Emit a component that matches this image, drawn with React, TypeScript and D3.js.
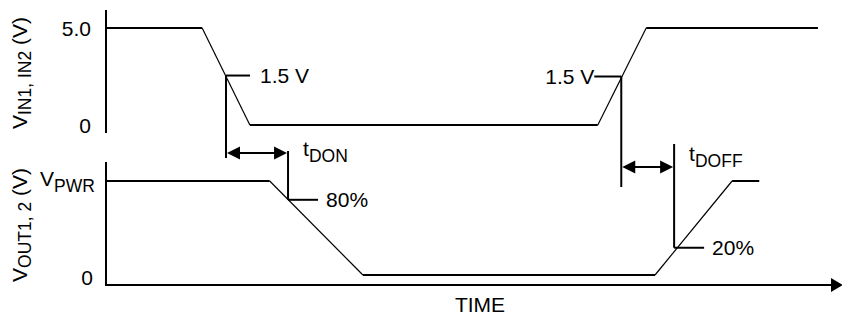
import React from "react";
import * as d3 from "d3";

// ---- data (time in arbitrary units 0..100, levels in volts / fraction of VPWR) ----
const vinTime = [0, 13.1, 19.6, 67.0, 73.6, 97.0];
const vinLevel = [5, 5, 0, 0, 5, 5];
const voutTime = [0, 22.3, 35.0, 74.8, 85.3, 89.0];
const voutLevel = [1, 1, 0, 0, 1, 1];
const vinTicks = [5, 0];
const vinTickLabels = ["5.0", "0"];
const voutTicks = [1, 0];
const vinMarkerTime = [16.35, 70.2];
const vinMarkerLevel = [2.55, 2.5];
const vinMarkerLabel = ["1.5 V", "1.5 V"];
const voutMarkerTime = [24.8, 77.4];
const voutMarkerLevel = [0.8, 0.29];
const voutMarkerLabel = ["80%", "20%"];
const delayLabels = ["DON", "DOFF"];

const W = 842;
const H = 318;
const FONT = "'Liberation Sans', Arial, Helvetica, sans-serif";
const FS = 21;
const SUB = 17.5;

export default function App() {
  const x = d3.scaleLinear().domain([0, 100]).range([106, 840]);
  const yIn = d3.scaleLinear().domain([0, 5]).range([125, 28]);
  const yOut = d3.scaleLinear().domain([0, 1]).range([275, 181]);

  const segs = (ts: number[], ls: number[], y: d3.ScaleLinear<number, number>) =>
    ts.slice(1).map((t, i) => ({
      x1: x(ts[i]),
      y1: y(ls[i]),
      x2: x(t),
      y2: y(ls[i + 1]),
      flat: ls[i] === ls[i + 1],
    }));

  const inSegs = segs(vinTime, vinLevel, yIn);
  const outSegs = segs(voutTime, voutLevel, yOut);

  const axisX = x(0);
  const arrowHead = (tipX: number, y: number, dir: number, len = 13, half = 6.5) =>
    `M${tipX},${y} L${tipX - dir * len},${y - half} L${tipX - dir * len},${y + half} Z`;

  // marker geometry
  const inM = vinMarkerTime.map((t, i) => ({ x: x(t), y: yIn(vinMarkerLevel[i]) }));
  const outM = voutMarkerTime.map((t, i) => ({ x: x(t), y: yOut(voutMarkerLevel[i]) }));
  const inVertBottom = [158, 187];
  const outVertTop = [151, 144];
  const arrowY = [153, 167];

  const text = { fontFamily: FONT, fontSize: FS, fill: "#000" } as const;

  return (
    <svg width={W} height={H} style={{ position: "absolute", left: 0, top: 0, background: "#fff" }}>
      <rect width={W} height={H} fill="#fff" />
      {/* axes */}
      <line x1={axisX} y1={10} x2={axisX} y2={133} stroke="#000" strokeWidth={2} />
      <line x1={axisX} y1={162} x2={axisX} y2={286} stroke="#000" strokeWidth={2} />
      <line x1={axisX - 1} y1={285} x2={832} y2={285} stroke="#000" strokeWidth={2} />
      <path d={arrowHead(843, 285, 1, 12, 7)} fill="#000" />

      {/* waveforms */}
      {[...inSegs, ...outSegs].map((s, i) => (
        <line key={i} x1={s.x1} y1={s.y1} x2={s.x2} y2={s.y2} stroke="#000" strokeWidth={s.flat ? 2 : 1.2} />
      ))}

      {/* tick labels */}
      {vinTicks.map((v, i) => (
        <text key={i} x={91} y={yIn(v) + 8} textAnchor="end" {...text}>
          {vinTickLabels[i]}
        </text>
      ))}
      <text x={93} y={yOut(voutTicks[1]) + 10} textAnchor="end" {...text}>0</text>
      <text x={40} y={yOut(voutTicks[0]) + 5} {...text}>
        V<tspan fontSize={SUB} dy={6}>PWR</tspan>
      </text>

      {/* y titles */}
      <text transform="translate(27,73) rotate(-90)" textAnchor="middle" {...text}>
        V<tspan fontSize={SUB} dy={4}>IN1, IN2</tspan>
        <tspan dy={-4}> (V)</tspan>
      </text>
      <text transform="translate(27,225) rotate(-90)" textAnchor="middle" {...text}>
        V<tspan fontSize={SUB} dy={4}>OUT1, 2</tspan>
        <tspan dy={-4}> (V)</tspan>
      </text>
      <text x={480} y={312} textAnchor="middle" {...text}>TIME</text>

      {/* input threshold markers */}
      {inM.map((m, i) => (
        <g key={"in" + i}>
          <line x1={m.x} y1={m.y} x2={m.x} y2={inVertBottom[i]} stroke="#000" strokeWidth={2} />
          {i === 0 ? (
            <>
              <line x1={m.x} y1={m.y} x2={m.x + 24} y2={m.y} stroke="#000" strokeWidth={2} />
              <text x={m.x + 34} y={m.y + 7} {...text}>{vinMarkerLabel[i]}</text>
            </>
          ) : (
            <>
              <line x1={m.x - 27} y1={m.y} x2={m.x} y2={m.y} stroke="#000" strokeWidth={2} />
              <text x={m.x - 27} y={m.y + 7} textAnchor="end" {...text}>{vinMarkerLabel[i]}</text>
            </>
          )}
        </g>
      ))}

      {/* output threshold markers */}
      {outM.map((m, i) => (
        <g key={"out" + i}>
          <line x1={m.x} y1={outVertTop[i]} x2={m.x} y2={m.y} stroke="#000" strokeWidth={2} />
          <line x1={m.x} y1={m.y} x2={m.x + 30} y2={m.y} stroke="#000" strokeWidth={2} />
          <text x={m.x + 38} y={m.y + 7} {...text}>{voutMarkerLabel[i]}</text>
        </g>
      ))}

      {/* delay arrows */}
      {inM.map((m, i) => {
        const x1 = m.x + 1;
        const x2 = outM[i].x - 1;
        const y = arrowY[i];
        return (
          <g key={"arr" + i}>
            <line x1={x1 + 10} y1={y} x2={x2 - 10} y2={y} stroke="#000" strokeWidth={2} />
            <path d={arrowHead(x1, y, -1)} fill="#000" />
            <path d={arrowHead(x2, y, 1)} fill="#000" />
            <text x={outM[i].x + 15} y={y + (i === 0 ? 3 : -6)} {...text}>
              t<tspan fontSize={SUB} dy={6}>{delayLabels[i]}</tspan>
            </text>
          </g>
        );
      })}
    </svg>
  );
}
